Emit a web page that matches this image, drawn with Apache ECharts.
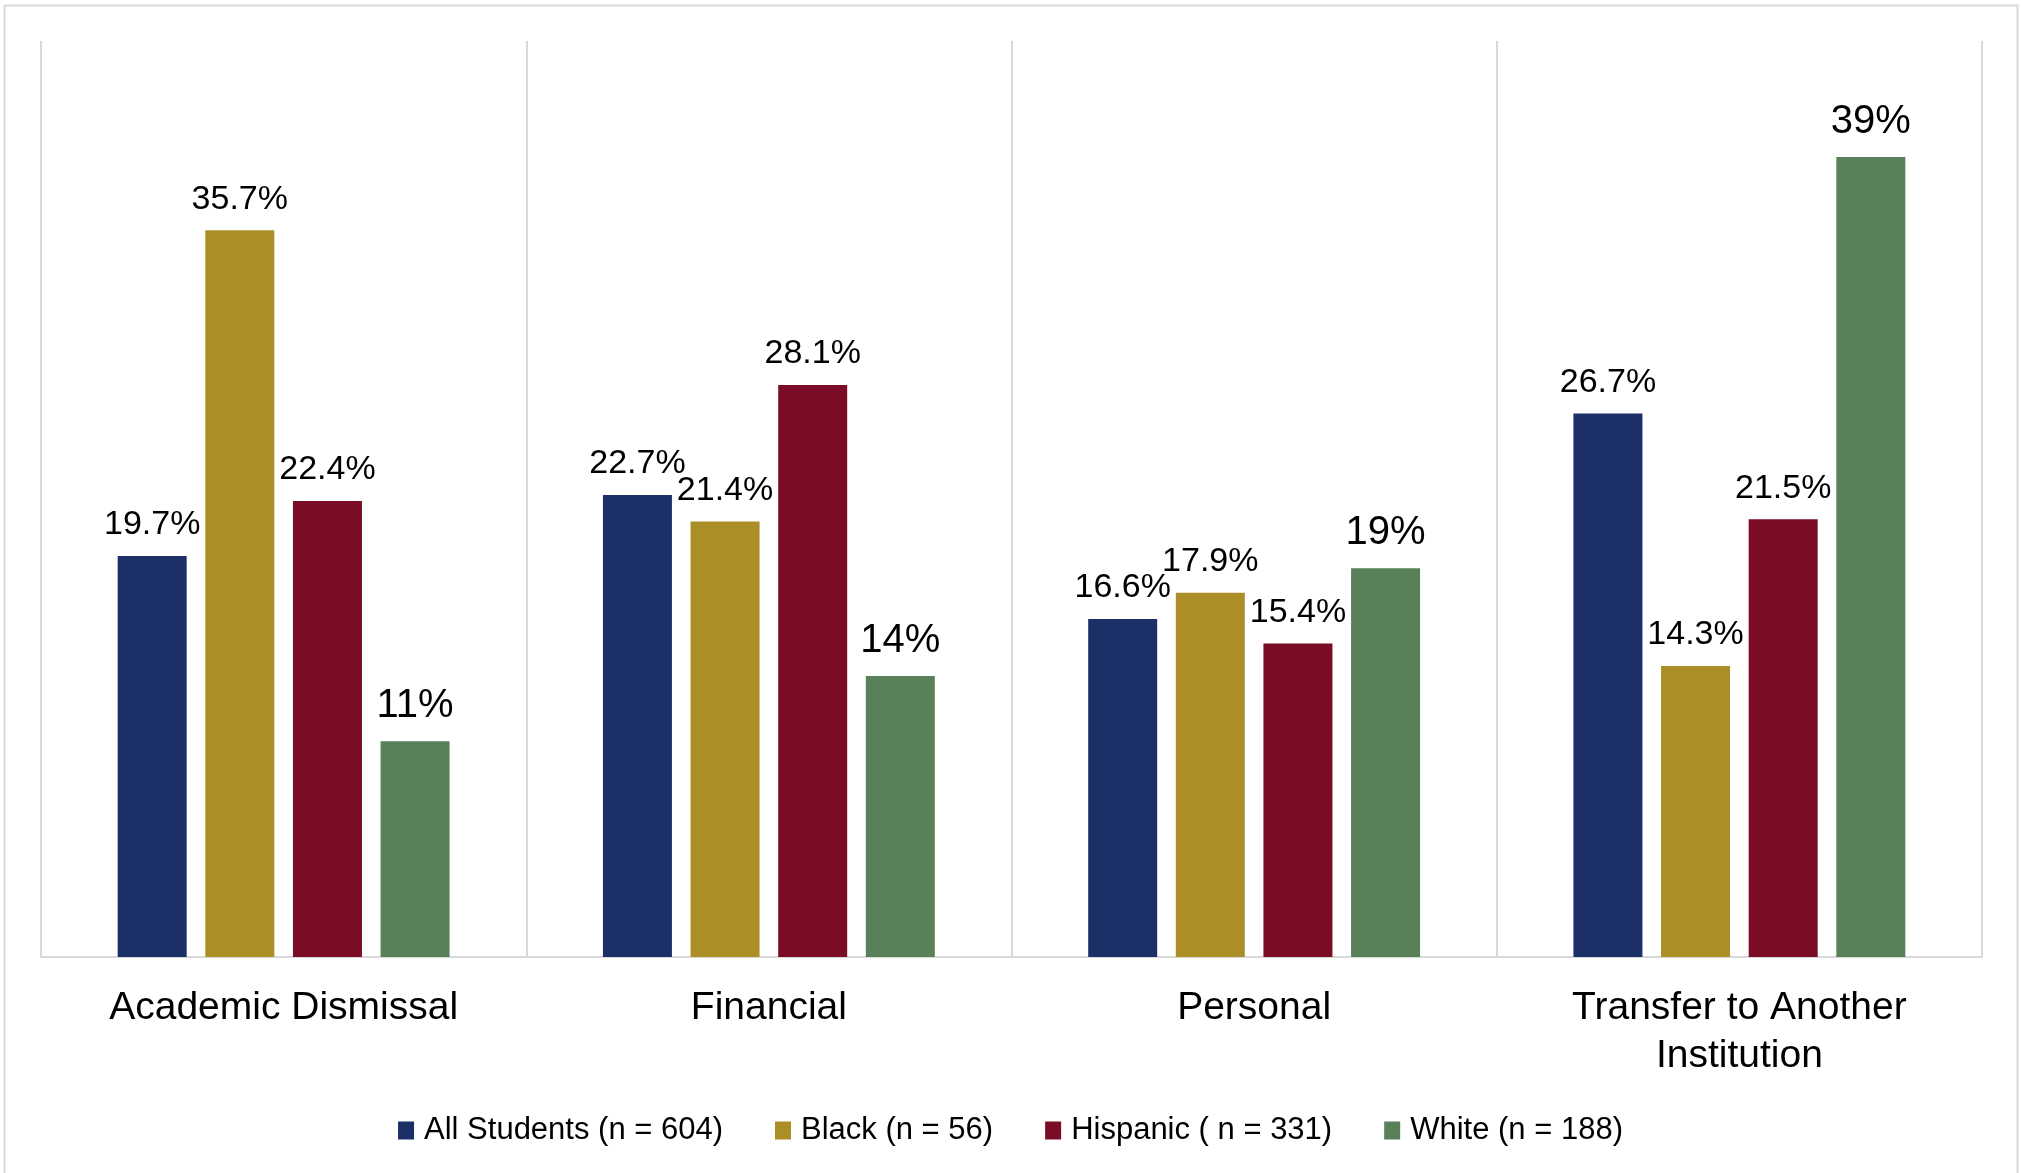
<!DOCTYPE html>
<html>
<head>
<meta charset="utf-8">
<title>Reasons for leaving</title>
<script src="https://cdn.jsdelivr.net/npm/echarts@6/dist/echarts.min.js"></script>
<style>
  html, body { margin: 0; padding: 0; background: #fff; }
  #chart { width: 2021px; height: 1173px; }
</style>
</head>
<body>
<div id="chart"></div>
<script>
// categories on the x axis
var categories = ['Academic Dismissal', 'Financial', 'Personal', 'Transfer to Another\nInstitution']

// series names (legend)
var seriesNames = ['All Students (n = 604)', 'Black (n = 56)', 'Hispanic ( n = 331)', 'White (n = 188)']

// values (%)
var allStudents = [19.7, 22.7, 16.6, 26.7]
var black = [35.7, 21.4, 17.9, 14.3]
var hispanic = [22.4, 28.1, 15.4, 21.5]
var white = [10.6, 13.8, 19.1, 39.3]

// label texts as printed above the bars
var allLabels = ['19.7%', '22.7%', '16.6%', '26.7%']
var blackLabels = ['35.7%', '21.4%', '17.9%', '14.3%']
var hispanicLabels = ['22.4%', '28.1%', '15.4%', '21.5%']
var whiteLabels = ['11%', '14%', '19%', '39%']

var colors = ['#1c2f66', '#ab8e26', '#7b0c25', '#588159']
var font = "'Liberation Sans', Arial, Helvetica, sans-serif"

function makeSeries(name, values, labels, color, big) {
  return {
    name: name,
    type: 'bar',
    barWidth: 69,
    barGap: '27%',
    itemStyle: { color: color },
    label: {
      show: true,
      position: 'top',
      distance: big ? 15 : 14,
      color: '#000',
      fontFamily: font,
      fontSize: big ? 40 : 34,
      formatter: function (p) { return labels[p.dataIndex] }
    },
    data: values
  }
}

var chart = echarts.init(document.getElementById('chart'))
chart.setOption({
  animation: false,
  textStyle: { fontFamily: font },
  graphic: [{
    type: 'rect',
    shape: { x: 4.5, y: 5.5, width: 2013, height: 1180 },
    style: { fill: 'none', stroke: '#d9d9d9', lineWidth: 2 },
    silent: true
  }],
  legend: {
    bottom: 22,
    left: 'center',
    itemWidth: 16,
    itemHeight: 18,
    itemGap: 52,
    icon: 'rect',
    textStyle: { fontSize: 31, color: '#000', fontFamily: font, padding: [0, 0, 0, 5] },
    data: seriesNames
  },
  grid: {
    left: 41,
    right: 39,
    top: 41,
    bottom: 216
  },
  xAxis: {
    type: 'category',
    data: categories,
    axisTick: { show: false },
    axisLine: { lineStyle: { color: '#d9d9d9', width: 2 } },
    splitLine: { show: true, lineStyle: { color: '#d9d9d9', width: 2 } },
    axisLabel: {
      color: '#000',
      fontSize: 39,
      lineHeight: 48,
      margin: 27,
      fontFamily: font,
      interval: 0
    }
  },
  yAxis: {
    type: 'value',
    min: 0,
    max: 45,
    show: false
  },
  series: [
    makeSeries(seriesNames[0], allStudents, allLabels, colors[0], false),
    makeSeries(seriesNames[1], black, blackLabels, colors[1], false),
    makeSeries(seriesNames[2], hispanic, hispanicLabels, colors[2], false),
    makeSeries(seriesNames[3], white, whiteLabels, colors[3], true)
  ]
})
</script>
</body>
</html>
